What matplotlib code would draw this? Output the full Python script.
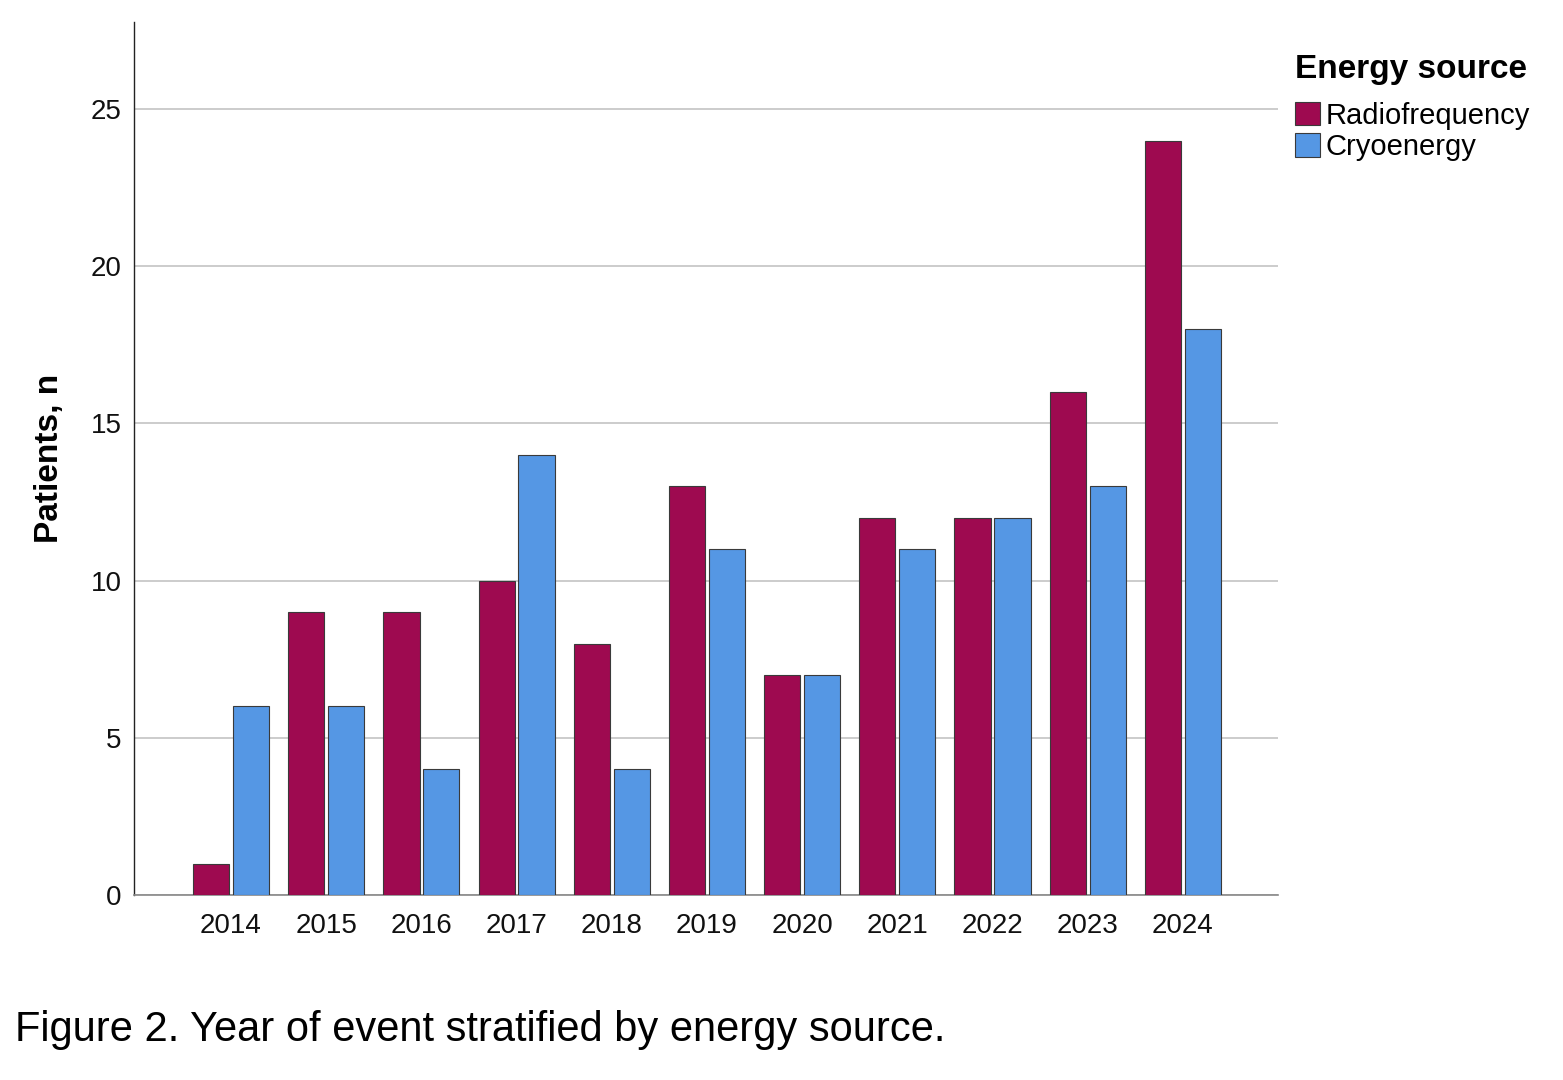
import numpy as np
import matplotlib.pyplot as plt

# data
years = ["2014", "2015", "2016", "2017", "2018", "2019", "2020", "2021", "2022", "2023", "2024"]
radiofrequency = [1, 9, 9, 10, 8, 13, 7, 12, 12, 16, 24]
cryoenergy = [6, 6, 4, 14, 4, 11, 7, 11, 12, 13, 18]
yticks = [0, 5, 10, 15, 20, 25]

rf_color = "#9e0a50"
cryo_color = "#5597e4"

plt.rcParams['font.family'] = ['Liberation Sans', 'DejaVu Sans']

fig = plt.figure(figsize=(15.63, 10.8), dpi=100)
ax = fig.add_axes([0.0857, 0.1713, 0.732, 0.8083])

x = np.arange(len(years))
w = 0.38
ax.bar(x - 0.21, radiofrequency, w, color=rf_color, edgecolor="#3a3a3a", linewidth=0.8,
       label="Radiofrequency", zorder=3)
ax.bar(x + 0.21, cryoenergy, w, color=cryo_color, edgecolor="#3a3a3a", linewidth=0.8,
       label="Cryoenergy", zorder=3)

ax.set_xlim(-1.02, 11.0)
ax.set_ylim(0, 27.77)
ax.set_xticks(x)
ax.set_xticklabels(years)
ax.set_yticks(yticks)
ax.tick_params(axis="both", length=0, labelsize=20, colors="#111111")
ax.tick_params(axis="x", pad=13)
ax.tick_params(axis="y", pad=9)

ax.yaxis.grid(True, color="#c4c4c4", linewidth=1.2, zorder=0)
ax.set_axisbelow(True)
for s in ["top", "right"]:
    ax.spines[s].set_visible(False)
ax.spines["left"].set_color("#222222")
ax.spines["bottom"].set_color("#888888")
ax.spines["left"].set_linewidth(1.0)
ax.spines["bottom"].set_linewidth(1.2)

ax.set_ylabel("Patients, n", fontsize=24, fontweight="bold", labelpad=18)

leg = ax.legend(loc="upper left", bbox_to_anchor=(1295 / 1563, 1 - 54 / 1080),
                bbox_transform=fig.transFigure, frameon=False, fontsize=21,
                title="Energy source", title_fontproperties={"weight": "bold", "size": 24},
                handlelength=0.85, handleheight=0.85, handletextpad=0.2,
                labelspacing=0.12, borderpad=0, borderaxespad=0)
leg._legend_box.align = "left"
leg._legend_box.sep = 12

fig.text(15 / 1563, 1 - 1030 / 1080, "Figure 2. Year of event stratified by energy source.",
         fontsize=30, va="center", ha="left")

fig.savefig("out.png", dpi=100, facecolor="white")
